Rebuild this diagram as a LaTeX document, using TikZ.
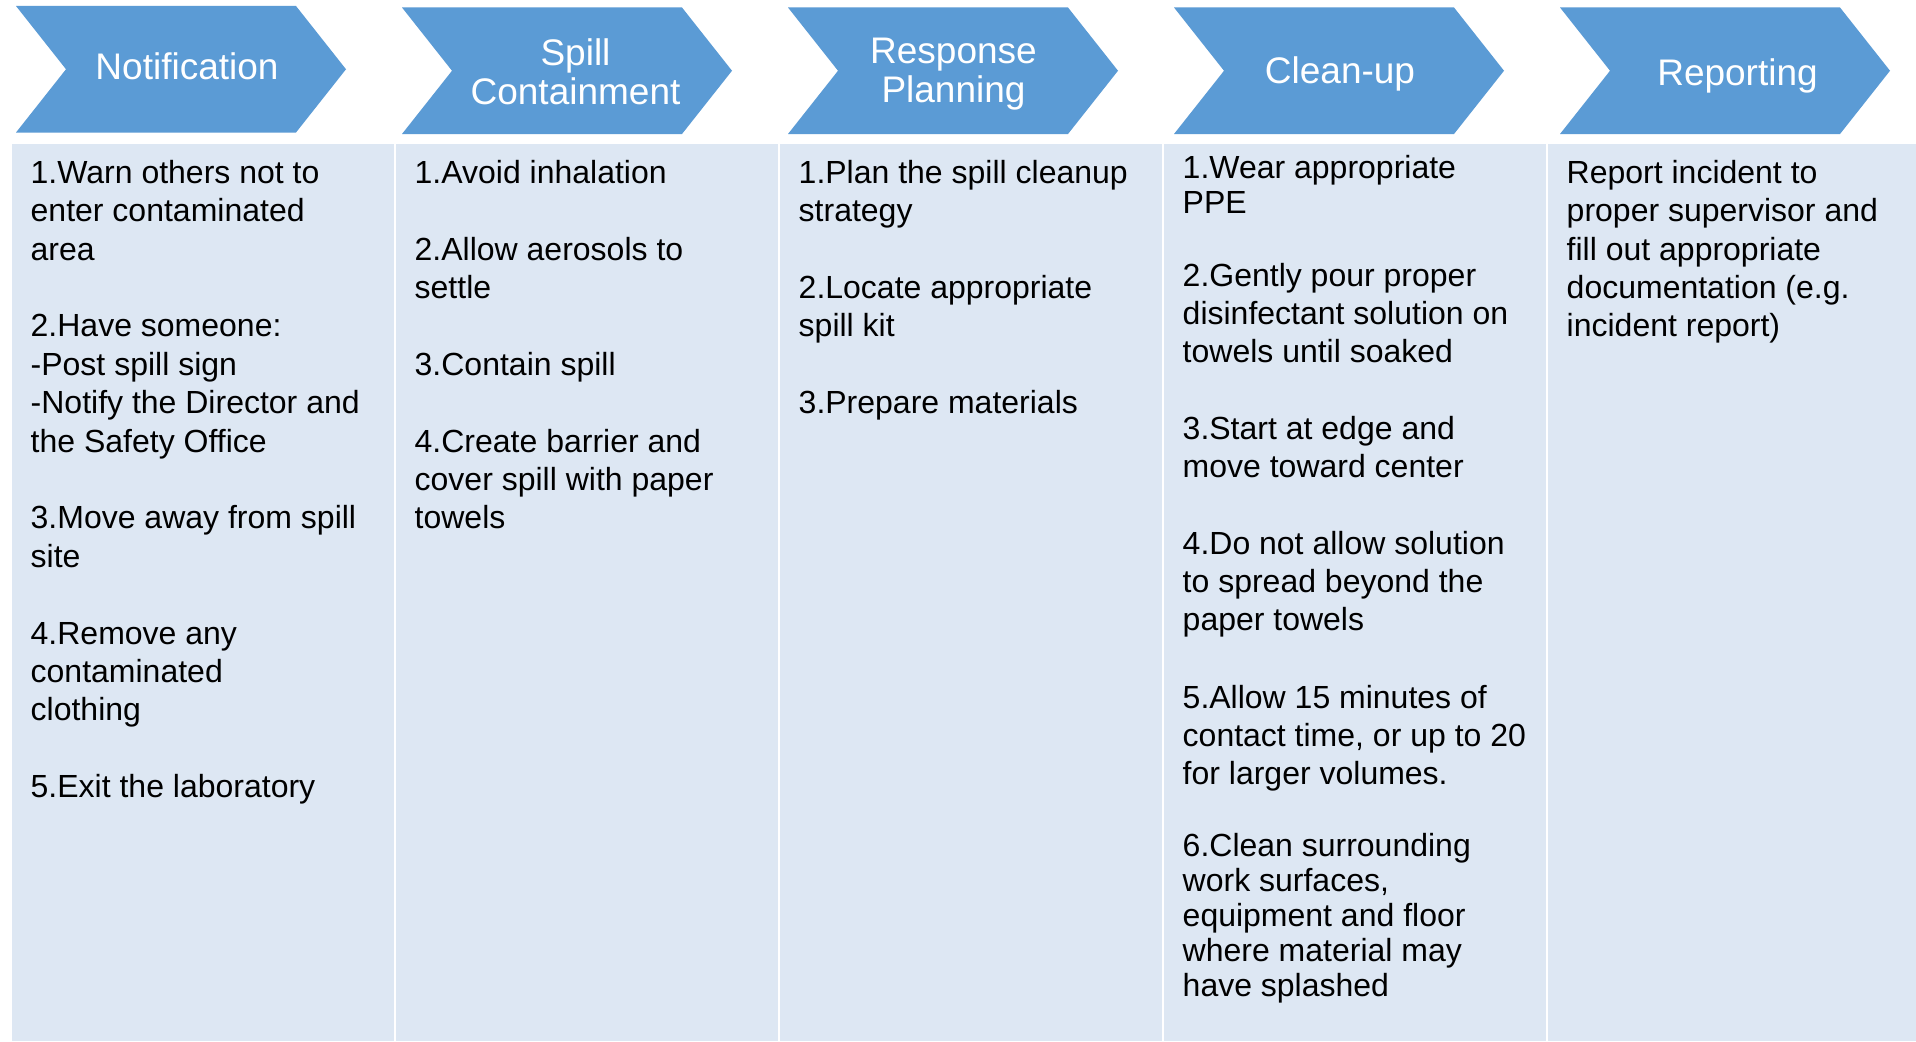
\documentclass[tikz,border=0pt]{standalone}
\usepackage{fontspec}
\setmainfont{Liberation Sans}
\definecolor{chev}{HTML}{5B9BD5}
\definecolor{colbg}{HTML}{DDE7F3}
\begin{document}
\begin{tikzpicture}[x=1pt,y=-1pt,
  chevron/.style={fill=chev, draw=none},
  colbox/.style={fill=colbg, draw=none},
  head/.style={text=white, font=\fontsize{37}{39}\selectfont, align=center, anchor=base, inner sep=0pt},
  body/.style={font=\fontsize{32}{38.4}\selectfont, align=left, anchor=base west, inner sep=0pt},
  bodymid/.style={body, font=\fontsize{32}{38}\selectfont},
  bodytight/.style={body, font=\fontsize{32}{35}\selectfont}
]
% note: for multi-line nodes the base anchor is the baseline of the last line
\useasboundingbox (0,0) rectangle (1916,1041);
\fill[white] (0,0) rectangle (1916,1041);

% chevrons
\foreach \x/\t in {16/6, 402/7.5, 788/7.5, 1174/7.5, 1560/7.5} {
  \fill[chevron] (\x,\t) -- (\x+280,\t) -- (\x+330,\t+63.25) -- (\x+280,\t+126.5)
    -- (\x,\t+126.5) -- (\x+50,\t+63.25) -- cycle;
}

% columns
\foreach \x in {12,396,780,1164} {
  \fill[colbox] (\x,143.5) rectangle (\x+381.5,1041);
}
\fill[colbox] (1548,143.5) rectangle (1916,1041);

% headers
\node[head] (h1) at (187,79.3) {Notification};
\node[head] (h2) at (575.5,104.5) {Spill\\Containment};
\node[head] (h3) at (953.5,102) {Response\\Planning};
\node[head] (h4) at (1340,83.5) {Clean-up};
\node[head] (h5) at (1737.5,85) {Reporting};

% column 1
\node[body] (a1) at (30.5,260.1) {1.Warn others not to\\enter contaminated\\area};
\node[body] (a2) at (30.5,452.1) {2.Have someone:\\-Post spill sign\\-Notify the Director and\\the Safety Office};
\node[body] (a3) at (30.5,567.3) {3.Move away from spill\\site};
\node[body] (a4) at (30.5,720.9) {4.Remove any\\contaminated\\clothing};
\node[body] (a5) at (30.5,797.7) {5.Exit the laboratory};

% column 2
\node[body] (b1) at (414.5,183.3) {1.Avoid inhalation};
\node[body] (b2) at (414.5,298.5) {2.Allow aerosols to\\settle};
\node[body] (b3) at (414.5,375.3) {3.Contain spill};
\node[body] (b4) at (414.5,528.9) {4.Create barrier and\\cover spill with paper\\towels};

% column 3
\node[body] (c1) at (798.5,221.7) {1.Plan the spill cleanup\\strategy};
\node[body] (c2) at (798.5,336.9) {2.Locate appropriate\\spill kit};
\node[body] (c3) at (798.5,413.7) {3.Prepare materials};

% column 4
\node[bodytight] (d1) at (1182.5,213.3) {1.Wear appropriate\\PPE};
\node[bodymid] (d2) at (1182.5,362.7) {2.Gently pour proper\\disinfectant solution on\\towels until soaked};
\node[bodymid] (d3) at (1182.5,477.5) {3.Start at edge and\\move toward center};
\node[bodymid] (d4) at (1182.5,630.3) {4.Do not allow solution\\to spread beyond the\\paper towels};
\node[bodymid] (d5) at (1182.5,784.3) {5.Allow 15 minutes of\\contact time, or up to 20\\for larger volumes.};
\node[bodytight] (d6) at (1182.5,996.7) {6.Clean surrounding\\work surfaces,\\equipment and floor\\where material may\\have splashed};

% column 5
\node[body] (e1) at (1566.5,336.9) {Report incident to\\proper supervisor and\\fill out appropriate\\documentation (e.g.\\incident report)};
\end{tikzpicture}
\end{document}
